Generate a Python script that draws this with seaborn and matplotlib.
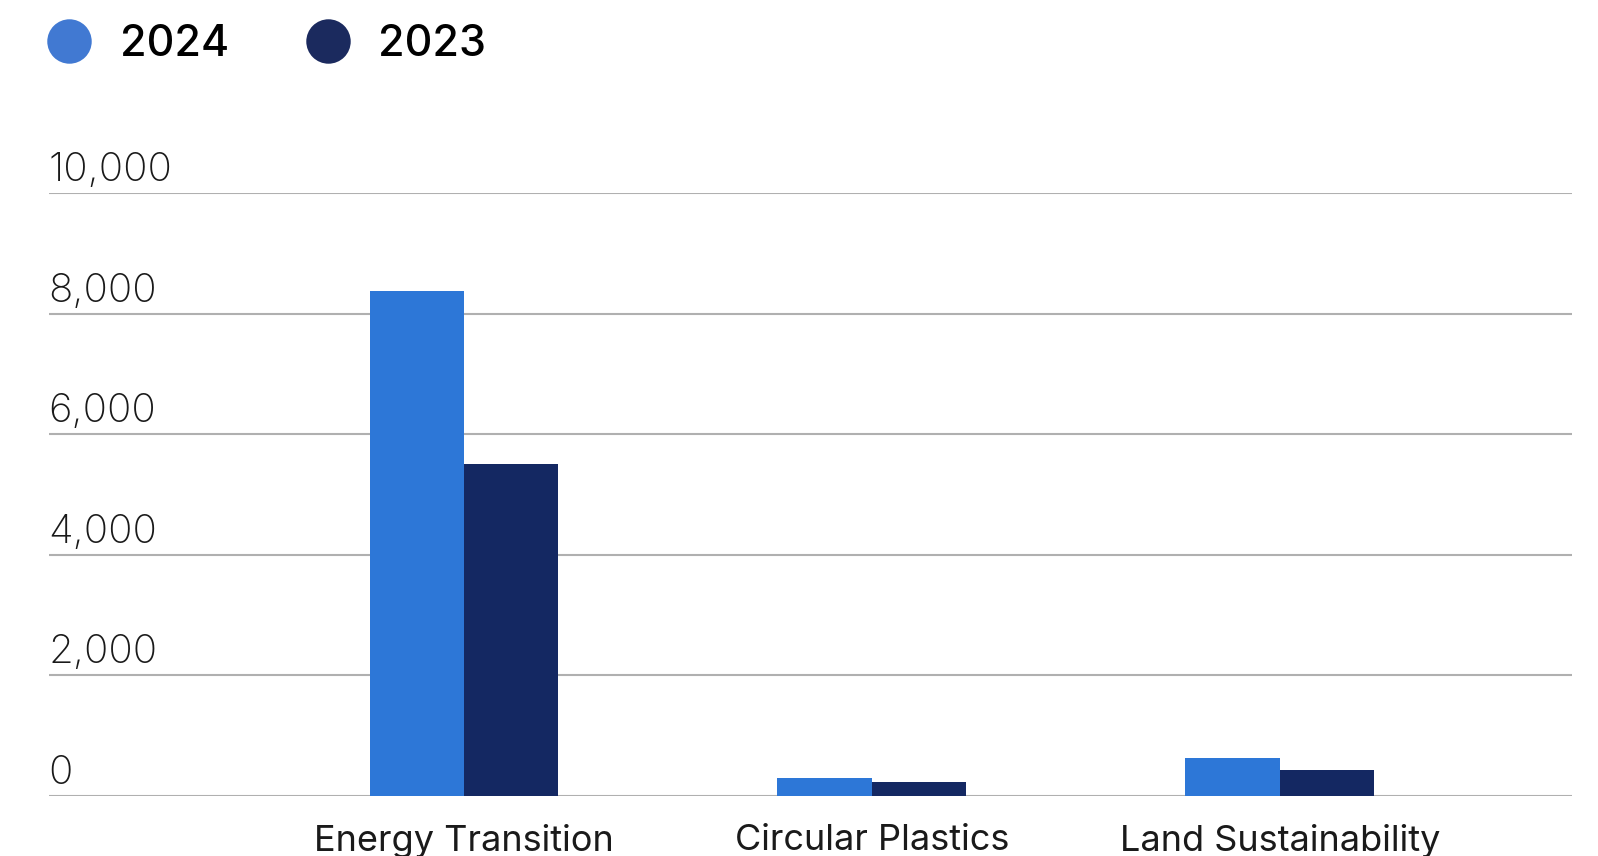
import pandas as pd
import matplotlib.pyplot as plt
import matplotlib.transforms as mtransforms
from matplotlib.lines import Line2D
import seaborn as sns

# values
categories = ["Energy Transition", "Circular Plastics", "Land Sustainability"]
values_2024 = [8370, 300, 630]
values_2023 = [5500, 230, 430]
years = ["2024", "2023"]
y_ticks = [0, 2000, 4000, 6000, 8000, 10000]

bar_colors = ["#2D77D7", "#142862"]
legend_colors = ["#4179D2", "#1B2A5E"]

df = pd.DataFrame({
    "category": categories * 2,
    "value": values_2024 + values_2023,
    "year": [years[0]] * 3 + [years[1]] * 3,
})

sns.set_style("white")
plt.rcParams["font.family"] = ["Inter", "DejaVu Sans"]

fig = plt.figure(figsize=(15.98, 8.56), dpi=100)
ax = fig.add_axes([0.0307, 0.0701, 0.953, 0.7044])

sns.barplot(data=df, x="category", y="value", hue="year", hue_order=years,
            palette=bar_colors, width=0.463, saturation=1, linewidth=0,
            legend=False, ax=ax)

ax.set_xlim(-1.017, 2.716)
ax.set_ylim(0, 10000)
ax.set_yticks(y_ticks)
ax.set_yticklabels([])
ax.tick_params(axis="y", length=0)
ax.tick_params(axis="x", length=0, pad=20, labelsize=26, labelcolor="#1a1a1a")
ax.yaxis.grid(True, color="#b0b0b0", linewidth=1.5)
ax.set_axisbelow(True)
for s in ax.spines.values():
    s.set_visible(False)
ax.set_xlabel("")
ax.set_ylabel("")

# y labels sit above their gridlines at the left edge
trans = mtransforms.blended_transform_factory(ax.transAxes, ax.transData)
offset = mtransforms.ScaledTranslation(-0.01, 4 / 100, fig.dpi_scale_trans)
for t in y_ticks:
    ax.text(0, t, f"{t:,}", transform=trans + offset, ha="left", va="bottom",
            fontsize=29, color="#1a1a1a", fontweight="light")

handles = [Line2D([], [], marker="o", linestyle="", markersize=32,
                  markerfacecolor=c, markeredgewidth=0) for c in legend_colors]
fig.legend(handles, years, loc="center left", bbox_to_anchor=(0.003, 0.948),
           ncol=2, frameon=False, handletextpad=0.58, labelcolor="black",
           columnspacing=1.68, handlelength=1.2, prop={"size": 31, "weight": "medium"})

fig.savefig("out.png", dpi=100)
